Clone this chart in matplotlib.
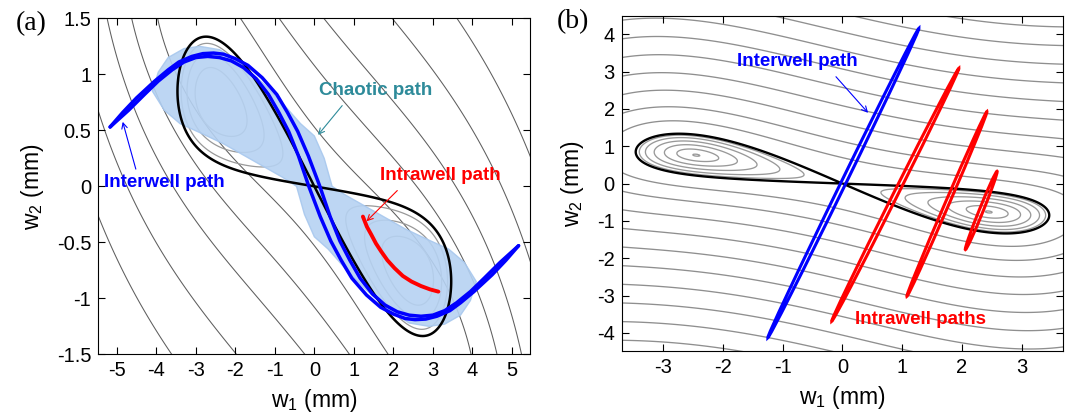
import numpy as np
import matplotlib
matplotlib.use('Agg')
import matplotlib.pyplot as plt
from matplotlib.patches import Ellipse, Polygon

plt.rcParams['font.family'] = ['Liberation Sans', 'DejaVu Sans']
plt.rcParams['mathtext.default'] = 'regular'
plt.rcParams['axes.unicode_minus'] = False
plt.rcParams['contour.negative_linestyle'] = 'solid'

# potential parameters, fitted to the separatrix and the well bottoms
WELL_U = 2.45          # w1 of the two well bottoms (mm)
VALLEY_SLOPE = 0.376   # valley: w2 = -slope*w1 + cubic*w1^3
VALLEY_CUBIC = 0.0109
WELL_WEIGHT = 0.1

# panel (a) background field
A_SLOPE = 0.45
A_WELL_U = 2.55
A_WEIGHT = 0.06

# gray contour levels, fixed by where the lines cut the frame
a_bottom_crossings = [-3.61, -1.97, -0.24, 0.89, 1.87]              # w1 at w2 = -1.5
b_left_crossings = [0.3, -0.2, -0.7, -1.2, -1.7, -2.2, -2.7, -3.2, -3.7, -4.2]  # w2 at w1 = -3.7
well_levels_a = [-0.03, -0.07, -0.11]
well_levels_b = [-0.02, -0.05, -0.085, -0.115, -0.138, -0.1497]

# panel (a): interwell orbit, upper strand (lower strand is its point mirror)
inter_w1 = [-5.17, -4.85, -4.5, -4.04, -3.7, -3.43, -3.1, -2.82, -2.55, -2.3, -2.0,
            -1.68, -1.32, -0.95, -0.68, -0.42, -0.15, 0.14, 0.4, 0.65, 0.9, 1.16,
            1.47, 1.79, 2.1, 2.4, 2.7, 3.0, 3.3, 3.6, 3.95, 4.3, 4.7, 5.17]
inter_w2 = [0.53, 0.66, 0.79, 0.94, 1.04, 1.11, 1.16, 1.185, 1.19, 1.18, 1.14,
            1.08, 0.97, 0.82, 0.66, 0.49, 0.27, 0.0, -0.27, -0.49, -0.66, -0.82,
            -0.96, -1.06, -1.12, -1.15, -1.16, -1.15, -1.11, -1.04, -0.94, -0.82, -0.68, -0.53]

# panel (a): intrawell orbit
intra_w1 = [1.23, 1.33, 1.44, 1.56, 1.69, 1.85, 2.03, 2.24, 2.46, 2.7, 2.93, 3.14]
intra_w2 = [-0.27, -0.36, -0.43, -0.51, -0.58, -0.66, -0.73, -0.80, -0.85, -0.89, -0.92, -0.94]

# panel (a): outline of the chaotic cloud
cloud_w1 = [-4.1, -3.95, -3.7, -3.3, -2.9, -2.4, -1.8, -1.3, -0.8, -0.35, 0.0, 0.25, 0.45,
            0.8, 1.2, 1.7, 2.3, 2.9, 3.4, 3.8,
            4.1, 3.95, 3.7, 3.3, 2.9, 2.4, 1.8, 1.3, 0.8, 0.35, 0.0, -0.25, -0.45,
            -0.8, -1.2, -1.7, -2.3, -2.9, -3.4, -3.8]
cloud_w2 = [0.85, 1.02, 1.15, 1.23, 1.25, 1.22, 1.08, 0.92, 0.74, 0.56, 0.45, 0.25, 0.0,
            -0.08, -0.16, -0.26, -0.38, -0.48, -0.56, -0.68,
            -0.85, -1.02, -1.15, -1.23, -1.25, -1.22, -1.08, -0.92, -0.74, -0.56, -0.45, -0.25, 0.0,
            0.08, 0.16, 0.26, 0.38, 0.48, 0.56, 0.68]

# panel (b): orbits as thin loops, end points (w1, w2) and loop width
b_orbits = [
    {'ends': ((-1.25, -4.13), (1.28, 4.16)), 'width': 0.085, 'color': '#0000ff'},
    {'ends': ((-0.18, -3.69), (1.95, 3.09)), 'width': 0.08, 'color': '#ff0000'},
    {'ends': ((1.08, -3.02), (2.42, 1.93)), 'width': 0.07, 'color': '#ff0000'},
    {'ends': ((2.06, -1.77), (2.59, 0.33)), 'width': 0.07, 'color': '#ff0000'},
]


def valley(w1):
    return -VALLEY_SLOPE * w1 + VALLEY_CUBIC * w1 ** 3


def quartic(w1, u0):
    return -w1 ** 2 / 2 + w1 ** 4 / (4 * u0 ** 2)


def pot_b(w1, w2):
    return 0.5 * (w2 - valley(w1)) ** 2 + WELL_WEIGHT * quartic(w1, WELL_U)


def pot_a(w1, w2):
    return 0.5 * (w2 + A_SLOPE * w1) ** 2 + A_WEIGHT * quartic(w1, A_WELL_U)


def style_axes(ax):
    ax.tick_params(direction='in', top=True, right=True, length=5, labelsize=14.5,
                   width=0.8, pad=5)
    for sp in ax.spines.values():
        sp.set_linewidth(0.8)
    ax.set_xlabel('w$_1$ (mm)', fontsize=16.5, labelpad=5)
    ax.set_ylabel('w$_2$ (mm)', fontsize=16.5, labelpad=8)


fig = plt.figure(figsize=(10.75, 4.13), dpi=100)

# ---------------- panel (a) ----------------
ax1 = fig.add_axes([0.0914, 0.142, 0.402, 0.8136])
X, Y = np.meshgrid(np.linspace(-5.6, 5.6, 500), np.linspace(-1.6, 1.6, 400))

lev_a = np.sort(pot_a(np.array(a_bottom_crossings), -1.5))
ax1.contour(X, Y, pot_a(X, Y), levels=lev_a, colors='#5e5e5e', linewidths=0.75, zorder=1)
ax1.contour(X, Y, pot_b(X, Y), levels=sorted(well_levels_a), colors='#999999',
            linewidths=0.9, zorder=1)

cloud = Polygon(np.column_stack([cloud_w1, cloud_w2]), closed=True,
                facecolor='#b6d2f2', edgecolor='#a8c8ee', linewidth=1.0,
                alpha=0.9, zorder=2)
ax1.add_patch(cloud)

ax1.contour(X, Y, pot_b(X, Y), levels=[0.0], colors='black', linewidths=1.8, zorder=3)

iw1 = np.array(inter_w1)
iw2 = np.array(inter_w2)
ax1.plot(iw1, iw2, color='#0000ff', lw=2.5, zorder=4, solid_capstyle='round')
ax1.plot(-iw1, -iw2, color='#0000ff', lw=2.5, zorder=4, solid_capstyle='round')
ax1.plot(intra_w1, intra_w2, color='#ff0000', lw=2.8, zorder=5, solid_capstyle='round')

ax1.set_xlim(-5.47, 5.47)
ax1.set_ylim(-1.5, 1.5)
ax1.set_xticks(range(-5, 6))
ax1.set_yticks([-1.5, -1, -0.5, 0, 0.5, 1, 1.5])
ax1.set_yticklabels(['-1.5', '-1', '-0.5', '0', '0.5', '1', '1.5'])
style_axes(ax1)

ax1.text(1.55, 0.86, 'Chaotic path', color='#2e8b9a', fontsize=13.5,
         fontweight='bold', ha='center', va='center', zorder=6)
ax1.annotate('', xy=(0.05, 0.44), xytext=(0.75, 0.74),
             arrowprops=dict(arrowstyle='->', color='#2e8b9a', lw=0.8), zorder=6)
ax1.text(-3.8, 0.03, 'Interwell path', color='#0000ff', fontsize=13.5,
         fontweight='bold', ha='center', va='center', zorder=6)
ax1.annotate('', xy=(-4.87, 0.6), xytext=(-4.5, 0.13),
             arrowprops=dict(arrowstyle='->', color='#0000ff', lw=0.8), zorder=6)
ax1.text(3.2, 0.10, 'Intrawell path', color='#ff0000', fontsize=13.5,
         fontweight='bold', ha='center', va='center', zorder=6)
ax1.annotate('', xy=(1.27, -0.33), xytext=(2.15, -0.02),
             arrowprops=dict(arrowstyle='->', color='#ff0000', lw=0.8), zorder=6)

# ---------------- panel (b) ----------------
ax2 = fig.add_axes([0.5783, 0.149, 0.4108, 0.813])
X2, Y2 = np.meshgrid(np.linspace(-3.8, 3.8, 500), np.linspace(-4.6, 4.6, 500))
Vb = pot_b(X2, Y2)

lev_b = np.sort(pot_b(-3.7, np.array(b_left_crossings)))
ax2.contour(X2, Y2, Vb, levels=lev_b, colors='#8f8f8f', linewidths=0.95, zorder=1)
ax2.contour(X2, Y2, Vb, levels=sorted(well_levels_b), colors='#999999',
            linewidths=0.95, zorder=1)
ax2.contour(X2, Y2, Vb, levels=[0.0], colors='black', linewidths=1.7, zorder=3)

for orb in b_orbits:
    (x0, y0), (x1, y1) = orb['ends']
    length = np.hypot(x1 - x0, y1 - y0)
    ang = np.degrees(np.arctan2(y1 - y0, x1 - x0))
    ax2.add_patch(Ellipse(((x0 + x1) / 2, (y0 + y1) / 2), length, orb['width'],
                          angle=ang, fill=False, edgecolor=orb['color'],
                          linewidth=2.2, zorder=4))

ax2.set_xlim(-3.7, 3.7)
ax2.set_ylim(-4.5, 4.5)
ax2.set_xticks(range(-3, 4))
ax2.set_yticks(range(-4, 5))
style_axes(ax2)

ax2.text(-0.75, 3.27, 'Interwell path', color='#0000ff', fontsize=13.5,
         fontweight='bold', ha='center', va='center', zorder=6)
ax2.annotate('', xy=(0.46, 1.84), xytext=(-0.14, 2.92),
             arrowprops=dict(arrowstyle='->', color='#0000ff', lw=0.8), zorder=6)
ax2.text(1.3, -3.64, 'Intrawell paths', color='#ff0000', fontsize=13.5,
         fontweight='bold', ha='center', va='center', zorder=6)

fig.text(0.029, 0.944, '(a)', fontsize=20, family=['Liberation Serif', 'DejaVu Serif'],
         ha='center', va='center')
fig.text(0.533, 0.947, '(b)', fontsize=20, family=['Liberation Serif', 'DejaVu Serif'],
         ha='center', va='center')

fig.savefig('out.png', dpi=100, facecolor='white')
